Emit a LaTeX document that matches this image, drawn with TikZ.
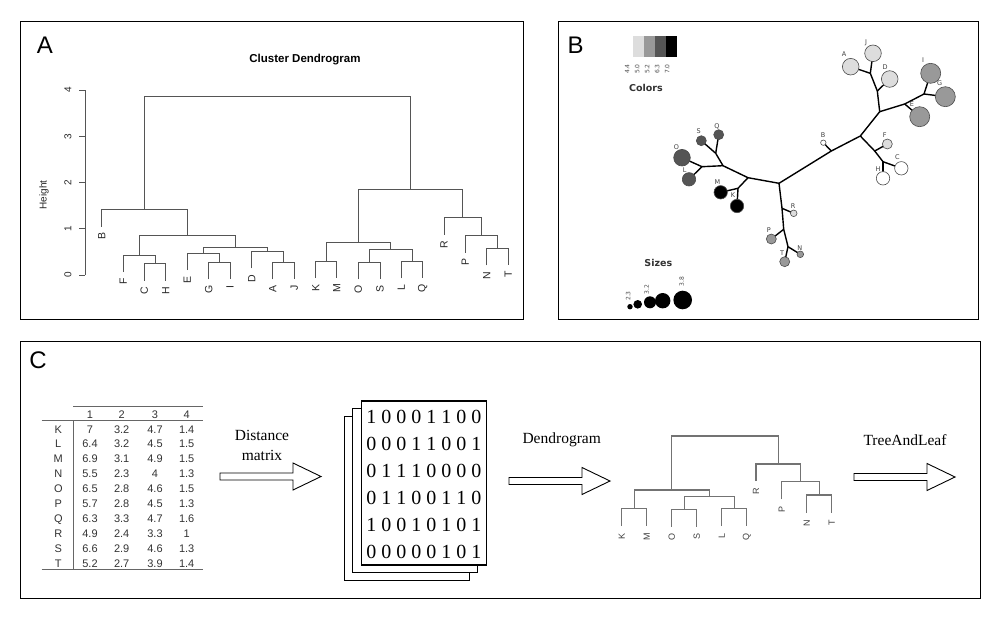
\documentclass[tikz,border=0pt]{standalone}
\usepackage{fontspec}
\setmainfont{Liberation Sans}
\newfontfamily\serifrm{Liberation Serif}
\newfontfamily\dejavu{DejaVu Sans}
\usetikzlibrary{calc}

\definecolor{treegray}{HTML}{555555}
\definecolor{ltgray}{HTML}{DDDDDD}
\definecolor{mdgray}{HTML}{999999}
\definecolor{dkgray}{HTML}{555555}
\definecolor{tabgray}{HTML}{333333}

\newcommand{\fsz}[2]{\fontsize{#1}{#2}\selectfont}
% join two branches of a dendrogram at height #4, name the new branch #5
\newcommand{\dmerge}[5][dline]{%
  \draw[#1] (#2) -- (#2 |- 0,#4) -- (#3 |- 0,#4) -- (#3);
  \coordinate (#5) at ($(#2 |- 0,#4)!0.5!(#3 |- 0,#4)$);}
% hollow block arrow from x=#1 at height #2
\newcommand{\blockarrow}[2]{%
  \draw[blk] (#1,{#2-3.5}) -- ({#1+73},{#2-3.5}) -- ({#1+73},{#2-13.5}) -- ({#1+101},#2)
    -- ({#1+73},{#2+13.5}) -- ({#1+73},{#2+3.5}) -- (#1,{#2+3.5}) -- cycle;}

\begin{document}
\begin{tikzpicture}[x=1pt,y=-1pt,
  panel/.style={draw,line width=1pt},
  plab/.style={font=\fsz{24}{28},inner sep=0pt},
  dline/.style={draw=treegray,line width=0.9pt},
  cline/.style={draw=black!55,line width=1.3pt},
  leaf/.style={font=\fsz{10.5}{12},rotate=90,anchor=east,inner sep=0pt,text=black!85},
  cleaf/.style={font=\fsz{9}{11},rotate=90,anchor=east,inner sep=0pt,text=black!75},
  ticklab/.style={font=\fsz{10}{12},rotate=90,inner sep=0pt,text=black!85},
  bedge/.style={line width=1.4pt},
  bnode/.style={circle,draw=black!70,line width=0.6pt,inner sep=0pt},
  blab/.style={font=\dejavu\fsz{6.5}{8},text=black!75,inner sep=0pt},
  leg/.style={font=\dejavu\fsz{6}{7},rotate=90,text=black!70,inner sep=0pt},
  legtitle/.style={font=\dejavu\bfseries\fsz{9.5}{11},text=black!80},
  tab/.style={font=\fsz{11}{13},text=tabgray,inner sep=0pt,text height=8pt,text depth=0pt},
  rule/.style={draw=black!60,line width=0.8pt},
  page/.style={draw,fill=white,line width=1.2pt,minimum width=125pt,minimum height=164pt,inner sep=0pt},
  bits/.style={font=\serifrm\fsz{20}{24},inner sep=0pt,text height=13pt,text depth=0pt},
  blk/.style={draw,fill=white,line width=0.9pt,line join=miter},
  alab/.style={font=\serifrm\fsz{15.5}{20},align=center,inner sep=0pt}
]
\useasboundingbox (0,0) rectangle (1000,626);

% panel frames
\draw[panel] (20,22) rectangle (523,319);
\draw[panel] (558,22) rectangle (978,319);
\draw[panel] (20,341) rectangle (980,598);
\node[plab] (pA) at (45,45.5) {A};
\node[plab] (pB) at (575.5,45) {B};
\node[plab] (pC) at (38,360) {C};

%% A: cluster dendrogram
\node[font=\bfseries\fsz{11.5}{14}] (atitle) at (305,60) {Cluster Dendrogram};
\draw[dline] (85,90.2) -- (85,275);
\foreach \k in {0,...,4}{
  \draw[dline] (85,{275-46.2*\k}) -- (79,{275-46.2*\k});
  \node[ticklab] (tk\k) at (68,{275-46.2*\k}) {\k};
}
\node[ticklab] (ylab) at (44,195) {Height};
\foreach \n/\x/\y in {B/101.7/226.7, F/123.3/272, C/144.3/280.7, H/165.7/280.7,
    E/187.3/270, G/208.7/279.3, I/230/279.3, D/251.7/268.3, A/272.7/279.3,
    J/294.3/279.3, K/315.7/278, M/336.7/278, O/358.3/279.3, S/380/279.3,
    L/401.3/278.3, Q/422.7/278.3, R/444/234.7, P/465.3/252.7, N/486.7/265.3,
    T/508.3/265.3}{
  \coordinate (a-\n) at (\x,\y);
  \node[leaf] (la-\n) at ($(a-\n)+(0,6)$) {\n};
}
\dmerge{a-C}{a-H}{263.7}{a-CH}
\dmerge{a-F}{a-CH}{255}{a-FH}
\dmerge{a-G}{a-I}{262.3}{a-GI}
\dmerge{a-E}{a-GI}{253}{a-EI}
\dmerge{a-A}{a-J}{262.3}{a-AJ}
\dmerge{a-D}{a-AJ}{251.3}{a-DJ}
\dmerge{a-EI}{a-DJ}{247}{a-EJ}
\dmerge{a-FH}{a-EJ}{235.7}{a-FJ}
\dmerge{a-B}{a-FJ}{209.7}{a-BJ}
\dmerge{a-K}{a-M}{261}{a-KM}
\dmerge{a-O}{a-S}{262.3}{a-OS}
\dmerge{a-L}{a-Q}{261.3}{a-LQ}
\dmerge{a-OS}{a-LQ}{249.3}{a-OQ}
\dmerge{a-KM}{a-OQ}{242.7}{a-KQ}
\dmerge{a-N}{a-T}{248.3}{a-NT}
\dmerge{a-P}{a-NT}{235.7}{a-PT}
\dmerge{a-R}{a-PT}{217.7}{a-RT}
\dmerge{a-KQ}{a-RT}{189.7}{a-KT}
\dmerge{a-BJ}{a-KT}{96}{a-root}

%% B: tree and leaf
% legend
\foreach \c/\x in {ltgray/633,mdgray/644,dkgray/655,black/666}
  \fill[\c] (\x,35.7) rectangle ++(11.2,21.6);
\foreach \t/\x [count=\i] in {4.4/627.3,5.0/637.3,5.2/647.3,6.3/657.3,7.0/667.3}
  \node[leg] (lg\i) at (\x,69) {\t};
\node[legtitle] (colors) at (646,88) {Colors};
\node[legtitle] (sizes) at (658.3,262.7) {Sizes};
\foreach \x/\y/\d [count=\i] in {630/306.7/5.4,637.7/304.3/8.6,650/302.3/12,662.7/300.7/15.4,682.7/300/18.6}
  \node[circle,fill=black,inner sep=0pt,minimum size=\d pt] (sz\i) at (\x,\y) {};
\node[leg] (sl1) at (628.3,296) {2.3};
\node[leg] (sl2) at (646.7,289.3) {3.2};
\node[leg] (sl3) at (681.7,281.7) {3.8};
% branch points
\foreach \n/\x/\y in {root/779/183.3, up1/831.3/151, up2/860.3/136, up3/879.7/111.7,
    adj/877.3/91, aj/870.3/73.3, egi/904.7/104, gi/924/94, fch/874.7/151, ch/883/161.7,
    lf1/748/177.7, lf2/723/165.7, km/738/188.3, ol/702/166.7, sq/715.7/153.3,
    dn1/782/208.3, dn2/783.7/229.3, dn3/788/246.7}
  \coordinate (b-\n) at (\x,\y);
\foreach \n/\x/\y in {A/850.7/66.7, J/873/53.3, D/889.7/79, I/930.7/73.3, G/945.3/96.7,
    E/919.7/116.7, F/887.3/144, C/901.3/168.3, H/883/178.3, B/823.3/142.7,
    M/720.7/192.3, K/737/206, O/682/157.7, L/689/179.3, S/701.3/140.7, Q/718.7/134.7,
    R/793.7/213.3, P/771.3/239, T/784.7/261.7, N/800.3/254.3}
  \coordinate (b-\n) at (\x,\y);
% edges
\draw[bedge] (b-root) -- (b-up1) -- (b-up2) -- (b-up3);
\draw[bedge] (b-up1) -- (b-B);
\draw[bedge] (b-up2) -- (b-fch) -- (b-ch);
\draw[bedge] (b-fch) -- (b-F);
\draw[bedge] (b-ch) -- (b-C);
\draw[bedge] (b-ch) -- (b-H);
\draw[bedge] (b-up3) -- (b-adj) -- (b-aj);
\draw[bedge] (b-adj) -- (b-D);
\draw[bedge] (b-aj) -- (b-A);
\draw[bedge] (b-aj) -- (b-J);
\draw[bedge] (b-up3) -- (b-egi) -- (b-gi);
\draw[bedge] (b-egi) -- (b-E);
\draw[bedge] (b-gi) -- (b-I);
\draw[bedge] (b-gi) -- (b-G);
\draw[bedge] (b-root) -- (b-lf1) -- (b-lf2);
\draw[bedge] (b-lf1) -- (b-km);
\draw[bedge] (b-km) -- (b-M);
\draw[bedge] (b-km) -- (b-K);
\draw[bedge] (b-lf2) -- (b-ol);
\draw[bedge] (b-ol) -- (b-O);
\draw[bedge] (b-ol) -- (b-L);
\draw[bedge] (b-lf2) -- (b-sq);
\draw[bedge] (b-sq) -- (b-S);
\draw[bedge] (b-sq) -- (b-Q);
\draw[bedge] (b-root) -- (b-dn1) -- (b-dn2) -- (b-dn3);
\draw[bedge] (b-dn1) -- (b-R);
\draw[bedge] (b-dn2) -- (b-P);
\draw[bedge] (b-dn3) -- (b-T);
\draw[bedge] (b-dn3) -- (b-N);
% leaves
\foreach \n/\d/\c in {A/16.6/ltgray, J/16.6/ltgray, D/16.6/ltgray, I/20/mdgray, G/20/mdgray,
    E/20/mdgray, F/10/ltgray, C/13.4/white, H/13.4/white, B/5.4/white, M/13.4/black,
    K/13.4/black, O/16.6/dkgray, L/13.4/dkgray, S/10/dkgray, Q/10/dkgray, R/6.6/ltgray,
    P/10/mdgray, T/10/mdgray, N/6.6/mdgray}
  \node[bnode,fill=\c,minimum size=\d pt] (nb-\n) at (b-\n) {};
\foreach \n/\x/\y in {A/844/54, J/866/42.7, D/885/66.7, I/923/60, G/939.7/83.3,
    E/912/104, F/884.7/135, C/897.3/156.7, H/878/169.3, B/823/135, M/717.3/181.7,
    K/733/195, O/676.3/146.7, L/684.7/170, S/698.7/131, Q/717/126.7, R/793/206,
    P/768.7/230, T/782/253.3, N/799.7/248.3}
  \node[blab] (lb-\n) at (\x,\y) {\n};

%% C: workflow
% data table
\draw[rule] (73,406) -- (203,406);
\draw[rule] (41.7,420) -- (203,420);
\draw[rule] (41.7,569.3) -- (203,569.3);
\draw[rule] (73.3,420) -- (73.3,569.3);
\foreach \cl/\x in {1/90,2/121.7,3/155,4/186.7}
  \node[tab] (th-\cl) at (\x,414.3) {\cl};
\foreach \rw/\va/\vb/\vc/\vd [count=\i from 0] in {K/7/3.2/4.7/1.4, L/6.4/3.2/4.5/1.5,
    M/6.9/3.1/4.9/1.5, N/5.5/2.3/4/1.3, O/6.5/2.8/4.6/1.5, P/5.7/2.8/4.5/1.3,
    Q/6.3/3.3/4.7/1.6, R/4.9/2.4/3.3/1, S/6.6/2.9/4.6/1.3, T/5.2/2.7/3.9/1.4}{
  \node[tab] (t-\rw) at (58.3,{429+14.9*\i}) {\rw};
  \node[tab] (t-\rw-1) at (90,{429+14.9*\i}) {\va};
  \node[tab] (t-\rw-2) at (121.7,{429+14.9*\i}) {\vb};
  \node[tab] (t-\rw-3) at (155,{429+14.9*\i}) {\vc};
  \node[tab] (t-\rw-4) at (186.7,{429+14.9*\i}) {\vd};
}
% arrows
\blockarrow{220}{476.5}
\node[alab] (al1) at (262,445) {Distance\\matrix};
\blockarrow{509}{481}
\node[alab] (al2) at (561.7,440) {Dendrogram};
\blockarrow{854}{477}
\node[alab] (al3) at (905,440) {TreeAndLeaf};
% stack of binary matrices
\node[page] (pg3) at (406.8,498.4) {};
\node[page] (pg2) at (415.2,490.5) {};
\node[page] (pg1) at (423.9,482.9) {};
\foreach \row [count=\i from 0] in {1 0 0 0 1 1 0 0, 0 0 0 1 1 0 0 1, 0 1 1 1 0 0 0 0,
    0 1 1 0 0 1 1 0, 1 0 0 1 0 1 0 1, 0 0 0 0 0 1 0 1}
  \node[bits] (bit\i) at (423.9,{417.3+26.9*\i}) {\row};
% small dendrogram
\foreach \n/\x/\y in {K/621.7/526, M/646.7/526, O/671.7/526.7, S/696.7/526.7,
    L/721.7/526, Q/746.7/526, R/756/481, P/781.7/499.3, N/806.7/512.7, T/831.7/512.7}{
  \coordinate (c-\n) at (\x,\y);
  \node[cleaf] (lc-\n) at ($(c-\n)+(0,7)$) {\n};
}
\dmerge[cline]{c-K}{c-M}{508.3}{c-KM}
\dmerge[cline]{c-O}{c-S}{509.3}{c-OS}
\dmerge[cline]{c-L}{c-Q}{508.3}{c-LQ}
\dmerge[cline]{c-OS}{c-LQ}{496.7}{c-OQ}
\dmerge[cline]{c-KM}{c-OQ}{490}{c-KQ}
\dmerge[cline]{c-N}{c-T}{495}{c-NT}
\dmerge[cline]{c-P}{c-NT}{481.7}{c-PT}
\dmerge[cline]{c-R}{c-PT}{464}{c-RT}
\dmerge[cline]{c-KQ}{c-RT}{436}{c-root}
\end{tikzpicture}
\end{document}
